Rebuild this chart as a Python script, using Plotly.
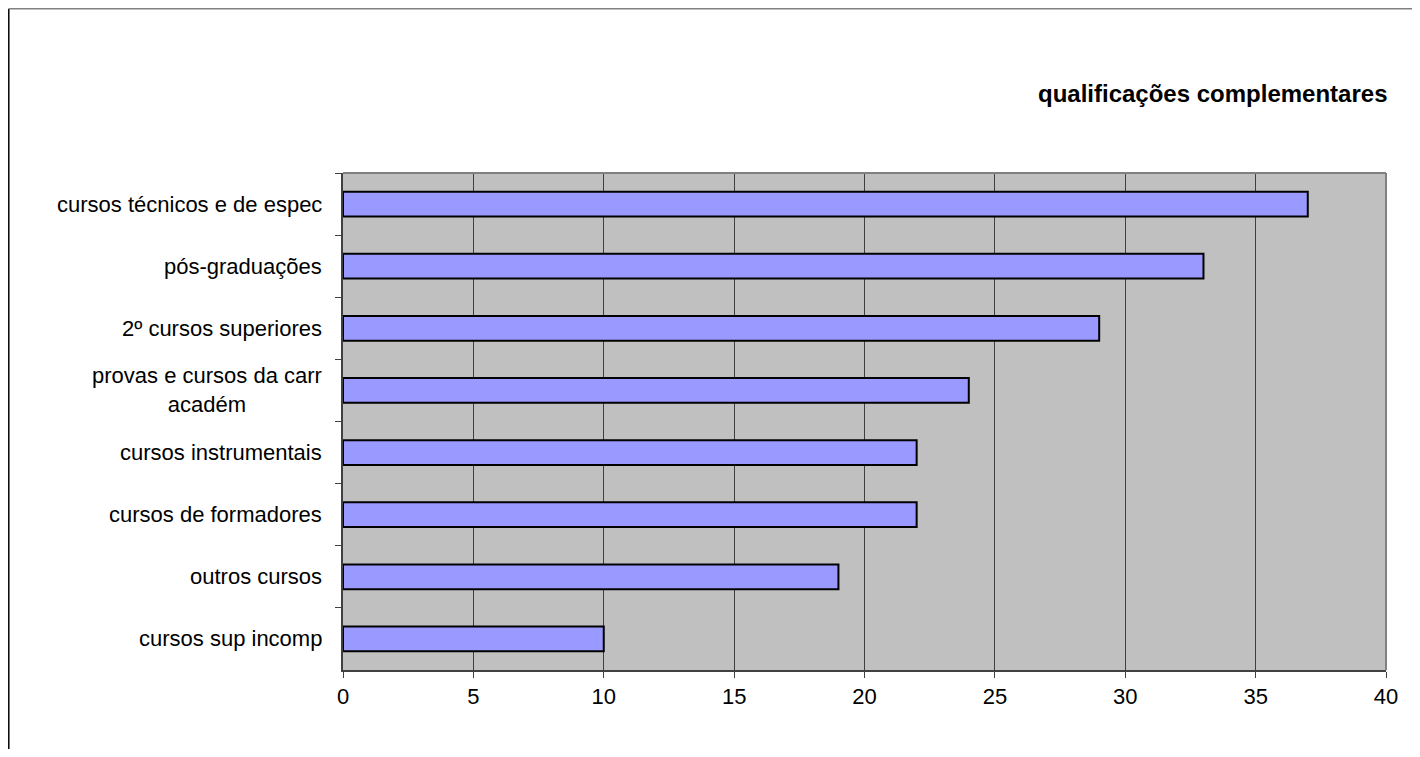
import plotly.graph_objects as go

categories = [
    "cursos técnicos e de espec",
    "pós-graduações",
    "2º cursos superiores",
    "provas e cursos da carr<br>académ",
    "cursos instrumentais",
    "cursos de formadores",
    "outros cursos",
    "cursos sup incomp",
]
values = [37, 33, 29, 24, 22, 22, 19, 10]
x_ticks = [0, 5, 10, 15, 20, 25, 30, 35, 40]
title_text = "qualificações complementares"

# the page body has an 8px margin; work in figure coordinates
OFF = 8
W, H = 1404, 741
L, R, T, B = 343 - OFF, 1386 - OFF, 173 - OFF, 670 - OFF
pw, ph = R - L, B - T

def px(x):
    return (x - L) / pw

def py(y):
    return (B - y) / ph

fig = go.Figure()
fig.add_trace(go.Bar(
    x=values, y=categories, orientation="h",
    marker=dict(color="#9999FF", line=dict(color="#000000", width=2)),
    hoverinfo="x+y",
))

FONT = "Liberation Sans, Arial, sans-serif"
annotations = []
for c in categories:
    annotations.append(dict(
        x=0, xref="paper", y=c, yref="y", text=c, showarrow=False,
        xanchor="right", yanchor="middle", xshift=-19, align="center",
        font=dict(family=FONT, size=22, color="#000000"),
    ))
annotations.append(dict(
    x=px(1389 - OFF), xref="paper", y=py(93 - OFF), yref="paper",
    text="<b>" + title_text + "</b>",
    showarrow=False, xanchor="right", yanchor="middle",
    font=dict(family=FONT, size=24, color="#000000"),
))

shapes = [
    dict(type="line", xref="paper", yref="paper", x0=0, x1=1, y0=1, y1=1,
         line=dict(color="#808080", width=2)),
    dict(type="line", xref="paper", yref="paper", x0=1, x1=1, y0=0, y1=1,
         line=dict(color="#808080", width=2)),
    # outer frame (left black, top gray)
    dict(type="line", xref="paper", yref="paper", x0=px(0.8), x1=px(0.8), y0=py(H + 5), y1=py(0.8),
         line=dict(color="#000000", width=1.5)),
    dict(type="line", xref="paper", yref="paper", x0=px(0.8), x1=px(W + 5), y0=py(0.8), y1=py(0.8),
         line=dict(color="#808080", width=1.5)),
]

fig.update_layout(
    width=W, height=H,
    margin=dict(l=L, r=W - R, t=T, b=H - B, pad=0),
    paper_bgcolor="#FFFFFF",
    plot_bgcolor="#C0C0C0",
    showlegend=False,
    bargap=0.6,
    annotations=annotations,
    shapes=shapes,
    font=dict(family=FONT, size=22, color="#000000"),
)
fig.update_xaxes(
    range=[0, 40], tickmode="array", tickvals=x_ticks, ticktext=[str(v) for v in x_ticks],
    showgrid=True, gridcolor="#404040", gridwidth=1,
    showline=True, linecolor="#404040", linewidth=2,
    ticks="outside", ticklen=6, tickcolor="#404040", tickwidth=1,
    zeroline=False, fixedrange=True,
    tickfont=dict(family=FONT, size=22, color="#000000"),
)
fig.update_yaxes(
    autorange="reversed", showticklabels=False,
    ticks="outside", tickson="boundaries", ticklen=6, tickcolor="#404040", tickwidth=1,
    showgrid=False, showline=True, linecolor="#404040", linewidth=2,
    zeroline=False, fixedrange=True,
)

fig.write_html("out.html")
